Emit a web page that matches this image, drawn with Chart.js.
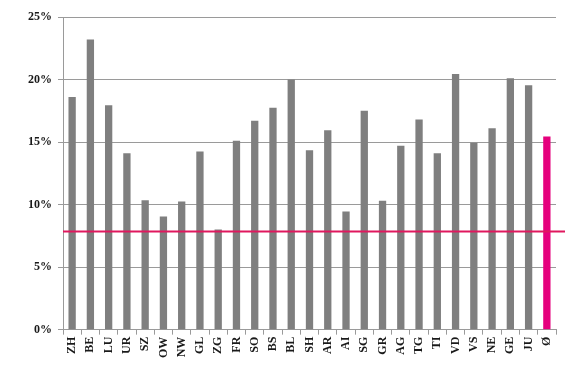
<!DOCTYPE html>
<html>
<head>
<meta charset="utf-8">
<script src="https://cdn.jsdelivr.net/npm/chart.js@4/dist/chart.umd.min.js"></script>
<style>
  html, body { margin: 0; padding: 0; background: #fff; }
  #wrap { width: 582px; height: 369px; }
</style>
</head>
<body>
<div id="wrap"><canvas id="chart"></canvas></div>
<script>
  const cantons = ['ZH', 'BE', 'LU', 'UR', 'SZ', 'OW', 'NW', 'GL', 'ZG', 'FR', 'SO', 'BS', 'BL', 'SH',
    'AR', 'AI', 'SG', 'GR', 'AG', 'TG', 'TI', 'VD', 'VS', 'NE', 'GE', 'JU', 'Ø'];
  const shares = [18.6, 23.2, 17.95, 14.1, 10.35, 9.05, 10.25, 14.25, 8.0, 15.1, 16.7, 17.75, 20.0, 14.35,
    15.95, 9.45, 17.5, 10.3, 14.7, 16.8, 14.1, 20.45, 14.95, 16.1, 20.1, 19.55, 15.45];
  const referenceLine = 7.9;
  const yTicks = [0, 5, 10, 15, 20, 25];

  const barColors = cantons.map((c) => (c === 'Ø' ? '#e5007d' : '#7f7f7f'));

  const lineMarker = {
    id: 'lineMarker',
    afterDatasetsDraw(chart) {
      const { ctx, chartArea, scales } = chart;
      const y = Math.round(scales.y.getPixelForValue(referenceLine)) + 0.5;
      ctx.save();
      ctx.strokeStyle = '#e0185e';
      ctx.lineWidth = 2;
      ctx.beginPath();
      ctx.moveTo(chartArea.left, y);
      ctx.lineTo(chartArea.right + 9, y);
      ctx.stroke();
      ctx.restore();
    }
  };

  const serif = { family: '"Liberation Serif", "DejaVu Serif", serif', size: 12, weight: 'bold' };

  new Chart(document.getElementById('chart'), {
    type: 'bar',
    data: {
      labels: cantons,
      datasets: [{
        data: shares,
        backgroundColor: barColors,
        borderWidth: 0,
        categoryPercentage: 1,
        barPercentage: 0.4
      }]
    },
    options: {
      responsive: true,
      maintainAspectRatio: false,
      animation: false,
      layout: { padding: { left: 22, right: 26, top: 17, bottom: 9 } },
      plugins: {
        legend: { display: false },
        tooltip: { enabled: false }
      },
      scales: {
        x: {
          grid: { drawOnChartArea: false, drawTicks: true, tickLength: 5, color: '#9a9a9a' },
          border: { color: '#9a9a9a' },
          ticks: { color: '#1a1a1a', font: serif, minRotation: 90, maxRotation: 90, autoSkip: false, padding: 2 }
        },
        y: {
          min: 0,
          max: 25,
          afterBuildTicks: (axis) => { axis.ticks = yTicks.map((v) => ({ value: v })); },
          grid: { color: '#9a9a9a', tickLength: 5 },
          border: { color: '#9a9a9a' },
          ticks: { color: '#1a1a1a', font: serif, padding: 6, callback: (v) => v + '%' }
        }
      }
    },
    plugins: [lineMarker]
  });
</script>
</body>
</html>
